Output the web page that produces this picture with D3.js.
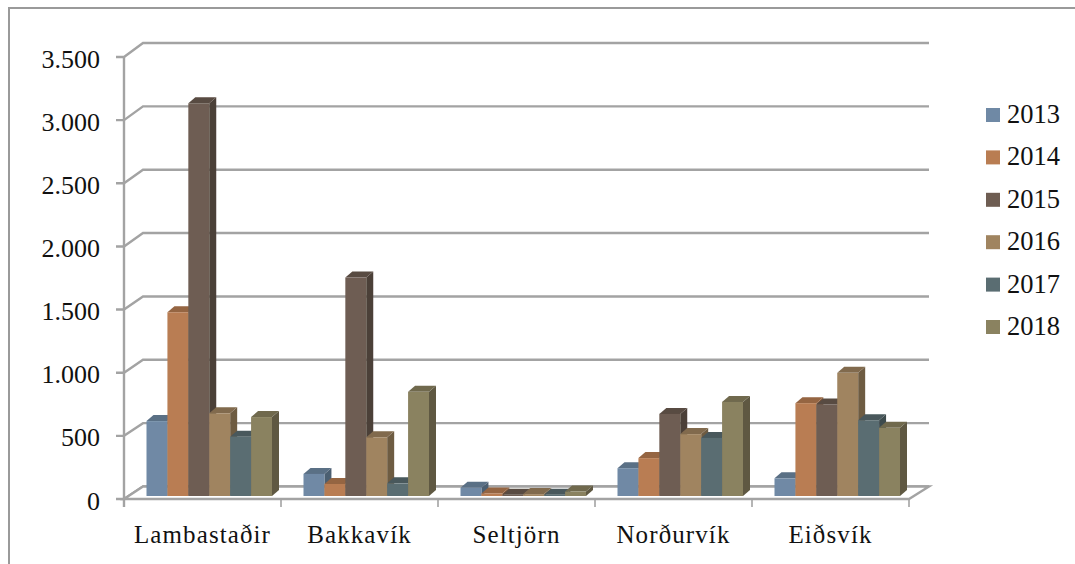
<!DOCTYPE html>
<html><head><meta charset="utf-8">
<script src="https://cdn.jsdelivr.net/npm/d3@7/dist/d3.min.js"></script>
<style>html,body{margin:0;background:#fff}svg{display:block}text{font-family:"Liberation Serif",serif;fill:#111}</style>
</head><body><svg id="c" width="1075" height="564"></svg>
<script>
const categories=["Lambastaðir","Bakkavík","Seltjörn","Norðurvík","Eiðsvík"];
const years=["2013","2014","2015","2016","2017","2018"];
const v2013=[593,175,65,220,140];
const v2014=[1455,95,20,300,735];
const v2015=[3110,1730,10,650,725];
const v2016=[655,465,15,490,975];
const v2017=[470,100,10,460,600];
const v2018=[625,825,35,745,540];
const seriesValues=[v2013,v2014,v2015,v2016,v2017,v2018];
const colors=["#6f89a5","#b97d52","#6e5d52","#a08460","#5a6d72","#8a8260"];
const yTicks=[0,500,1000,1500,2000,2500,3000,3500];
const fmt=d=>d===0?"0":d3.format(",")(d).replace(",",".");

const svg=d3.select("#c");
const defs=svg.append("defs");
defs.append("filter").attr("id","soft").attr("x","-5%").attr("y","-5%").attr("width","110%").attr("height","110%")
  .append("feGaussianBlur").attr("stdDeviation",0.45);
svg.append("path").attr("d","M1075 8H9V564").attr("fill","none").attr("stroke","#9a9a9a").attr("stroke-width",2);

const x0=d3.scaleBand().domain(categories).range([124,909]);
const x1=d3.scaleBand().domain(years).range([22.5,148]);
const y=d3.scaleLinear().domain([0,3500]).range([499,57]);
const yBack=d3.scaleLinear().domain([0,3500]).range([486.5,43]);
const backLeft=143,backRight=929,axisCol="#a3a3a3";

const frame=svg.append("g").attr("filter","url(#soft)");
const grid=frame.append("g").attr("fill","none").attr("stroke",axisCol).attr("stroke-width",2.4);
yTicks.forEach(t=>{
  grid.append("path").attr("d",`M116 ${y(t)}H124L${backLeft} ${yBack(t)}H${backRight}`);
});
frame.append("path").attr("d",`M124 ${y(0)}L${backLeft} ${yBack(0)}H${backRight}L909 ${y(0)}Z`).attr("fill","#fff").attr("stroke",axisCol).attr("stroke-width",2.4);
frame.append("path").attr("d",`M124 ${y(3500)}V${y(0)+8}`).attr("stroke",axisCol).attr("stroke-width",2.4);
categories.forEach(c=>frame.append("path").attr("d",`M${x0(c)} ${y(0)}v8`).attr("stroke",axisCol).attr("stroke-width",1.6));
frame.append("path").attr("d",`M909 ${y(0)}v8`).attr("stroke",axisCol).attr("stroke-width",1.6);

const baseY=496,depX=7,depY=6,k=(y(0)-y(500))/500;
const bars=svg.append("g").attr("filter","url(#soft)");
seriesValues.forEach((vals,s)=>{
  const col=d3.color(colors[s]);
  vals.forEach((v,i)=>{
    const bx=x0(categories[i])+x1(years[s]),w=x1.bandwidth(),top=baseY-v*k;
    const g=bars.append("g");
    g.append("path").attr("d",`M${bx+w} ${baseY}V${top}l${depX} ${-depY}V${baseY-depY}Z`).attr("fill",col.darker(1.05));
    g.append("path").attr("d",`M${bx} ${top}l${depX} ${-depY}h${w}l${-depX} ${depY}Z`).attr("fill",col.darker(.6));
    g.append("rect").attr("x",bx).attr("y",top).attr("width",w).attr("height",baseY-top).attr("fill",col);
  });
});

svg.append("g").selectAll("text").data(yTicks).join("text").attr("x",100).attr("y",d=>y(d)+10.5).attr("text-anchor","end").attr("font-size",26).text(fmt);
svg.append("g").selectAll("text").data(categories).join("text").attr("x",d=>x0(d)+x0.bandwidth()/2).attr("y",543).attr("text-anchor","middle").attr("font-size",25).attr("letter-spacing",1.1).text(d=>d);
const lg=d3.scaleBand().domain(years).range([92,346.4]);
const leg=svg.append("g").selectAll("g").data(years).join("g").attr("transform",d=>`translate(986,${lg(d)})`);
leg.append("rect").attr("y",16).attr("width",14).attr("height",14).attr("fill",(d,i)=>colors[i]);
leg.append("text").attr("x",21).attr("y",31).attr("font-size",26.5).text(d=>d);
</script></body></html>
